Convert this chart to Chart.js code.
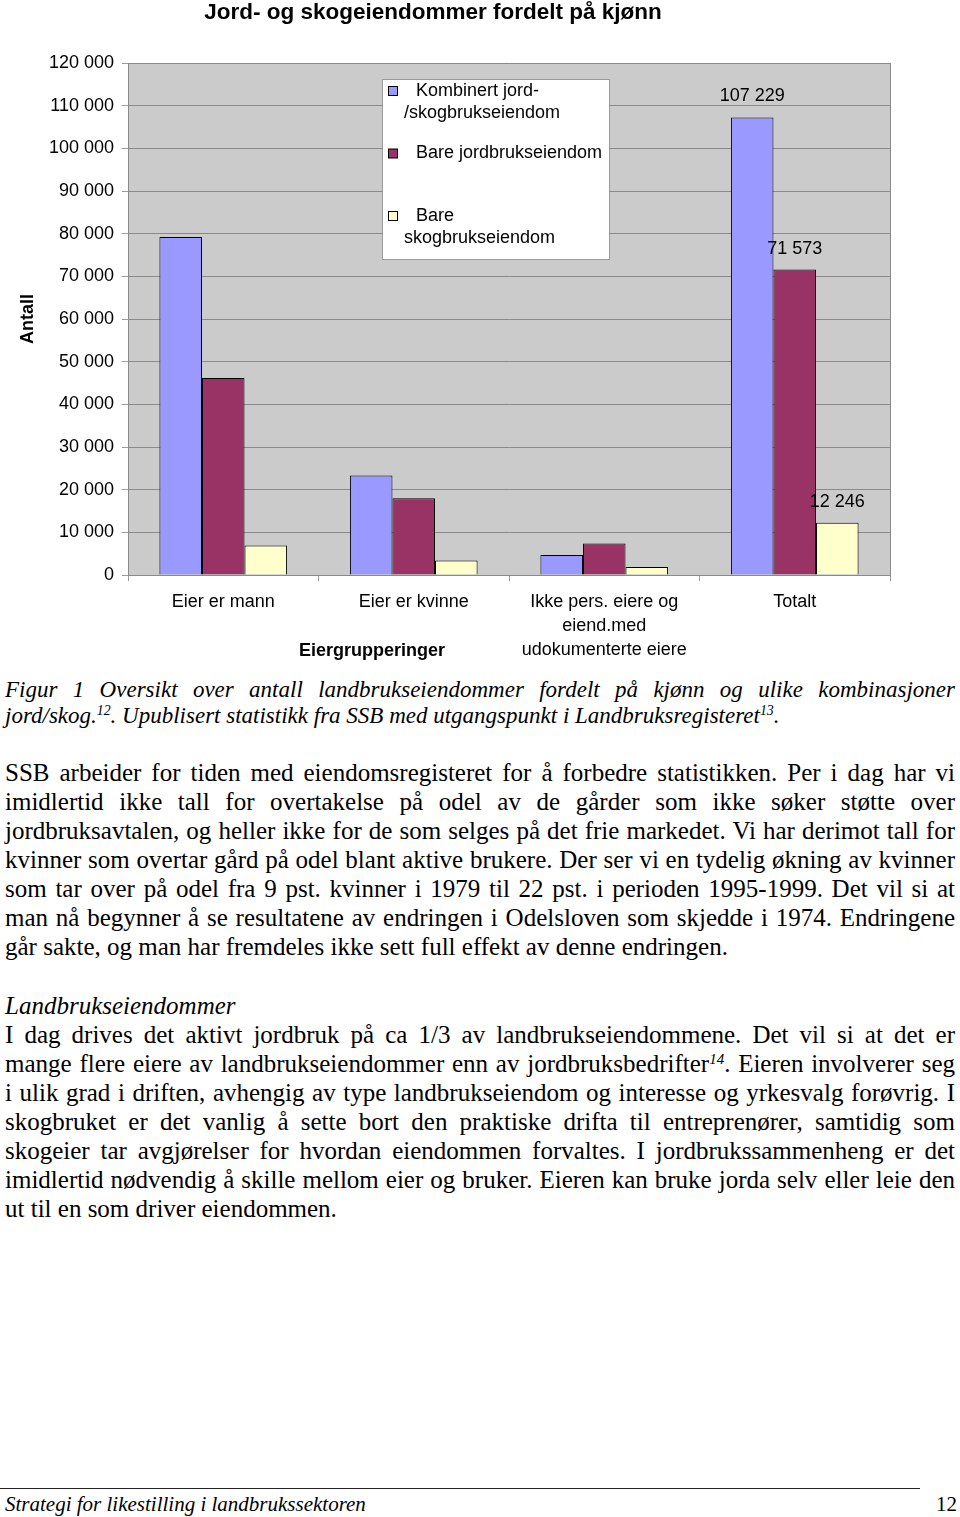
<!DOCTYPE html>
<html>
<head>
<meta charset="utf-8">
<script src="https://cdn.jsdelivr.net/npm/chart.js@4.4.1/dist/chart.umd.min.js"></script>
<style>
    body { margin: 0; background: #fff; width: 960px; height: 1517px; position: relative; overflow: hidden; }
    #chart { position: absolute; left: 0; top: 0; }
    .txt { position: absolute; left: 5px; width: 950px; font-family: 'Liberation Serif', 'Times New Roman', serif; color: #000; }
    .txt div { white-space: nowrap; }
    .j { text-align: justify; text-align-last: justify; white-space: normal !important; }
    .cap { font-style: italic; font-size: 23px; line-height: 26px; }
    .body { font-size: 25px; line-height: 29px; }
    sup { font-size: 0.6em; line-height: 0; vertical-align: 0.55em; }
    .rule { position: absolute; left: 0; top: 1488px; width: 920px; border-top: 1px solid #222; }
    .foot { position: absolute; top: 1492px; font-family: 'Liberation Serif', 'Times New Roman', serif; font-size: 21px; line-height: 24px; }
</style>
</head>
<body>
<canvas id="chart" width="960" height="665"></canvas>

<div class="txt cap" style="top:677px">
    <div class="j">Figur 1 Oversikt over antall landbrukseiendommer fordelt på kjønn og ulike kombinasjoner</div>
    <div>jord/skog.<sup>12</sup>. Upublisert statistikk fra SSB med utgangspunkt i Landbruksregisteret<sup>13</sup>.</div>
</div>

<div class="txt body" style="top:758px">
    <div class="j">SSB arbeider for tiden med eiendomsregisteret for å forbedre statistikken. Per i dag har vi</div>
    <div class="j">imidlertid ikke tall for overtakelse på odel av de gårder som ikke søker støtte over</div>
    <div class="j">jordbruksavtalen, og heller ikke for de som selges på det frie markedet. Vi har derimot tall for</div>
    <div class="j">kvinner som overtar gård på odel blant aktive brukere. Der ser vi en tydelig økning av kvinner</div>
    <div class="j">som tar over på odel fra 9 pst. kvinner i 1979 til 22 pst. i perioden 1995-1999. Det vil si at</div>
    <div class="j">man nå begynner å se resultatene av endringen i Odelsloven som skjedde i 1974. Endringene</div>
    <div>går sakte, og man har fremdeles ikke sett full effekt av denne endringen.</div>
</div>

<div class="txt body" style="top:991px">
    <div><i>Landbrukseiendommer</i></div>
    <div class="j">I dag drives det aktivt jordbruk på ca 1/3 av landbrukseiendommene. Det vil si at det er</div>
    <div class="j">mange flere eiere av landbrukseiendommer enn av jordbruksbedrifter<sup><i>14</i></sup>. Eieren involverer seg</div>
    <div class="j">i ulik grad i driften, avhengig av type landbrukseiendom og interesse og yrkesvalg forøvrig. I</div>
    <div class="j">skogbruket er det vanlig å sette bort den praktiske drifta til entreprenører, samtidig som</div>
    <div class="j">skogeier tar avgjørelser for hvordan eiendommen forvaltes. I jordbrukssammenheng er det</div>
    <div class="j">imidlertid nødvendig å skille mellom eier og bruker. Eieren kan bruke jorda selv eller leie den</div>
    <div>ut til en som driver eiendommen.</div>
</div>

<div class="rule"></div>
<div class="foot" style="left:5px;font-style:italic">Strategi for likestilling i landbrukssektoren</div>
<div class="foot" style="left:936px">12</div>

<script>
const chartTitle = 'Jord- og skogeiendommer fordelt på kjønn';
const yAxisTitle = 'Antall';
const xAxisTitle = 'Eiergrupperinger';

const categories = [
    'Eier er mann',
    'Eier er kvinne',
    ['Ikke pers. eiere og', 'eiend.med', 'udokumenterte eiere'],
    'Totalt'
];

const seriesNames = [
    'Kombinert jord-/skogbrukseiendom',
    'Bare jordbrukseiendom',
    'Bare skogbrukseiendom'
];
// how the legend box wraps each name
const legendLines = [
    ['Kombinert jord-', '/skogbrukseiendom'],
    ['Bare jordbrukseiendom'],
    ['Bare', 'skogbrukseiendom']
];

const kombinert = [79200, 23300, 4700, 107229];
const bareJord = [46200, 18000, 7400, 71573];
const bareSkog = [6900, 3400, 1900, 12246];

const seriesColors = ['#9999ff', '#993366', '#ffffcc'];

const yTicksMin = 0;
const yTicksMax = 120000;
const yTicksStep = 10000;

// only the total group has value labels
const labelledCategory = 3;

const FONT = "Arial, 'Liberation Sans', sans-serif";

function fmt(v) {
    return String(v).replace(/\B(?=(\d{3})+(?!\d))/g, ' ');
}

const pageDecor = {
    id: 'pageDecor',
    beforeDraw(chart) {
        const {ctx, chartArea} = chart;
        ctx.save();
        ctx.fillStyle = '#cbcbcb';
        ctx.fillRect(chartArea.left, chartArea.top, chartArea.right - chartArea.left, chartArea.bottom - chartArea.top);
        ctx.strokeStyle = '#8a8a8a';
        ctx.lineWidth = 1;
        ctx.beginPath();
        ctx.moveTo(chartArea.right + 0.5, chartArea.top);
        ctx.lineTo(chartArea.right + 0.5, chartArea.bottom);
        ctx.stroke();
        ctx.restore();
    },
    afterDatasetsDraw(chart) {
        const ctx = chart.ctx;
        ctx.save();
        ctx.fillStyle = '#000';
        ctx.font = '18px ' + FONT;
        ctx.textAlign = 'center';
        ctx.textBaseline = 'middle';
        chart.data.datasets.forEach(function (ds, i) {
            let bar = chart.getDatasetMeta(i).data[labelledCategory];
            ctx.fillText(fmt(ds.data[labelledCategory]), bar.x, bar.y - 21);
        });
        ctx.restore();
    },
    afterDraw(chart) {
        const ctx = chart.ctx;
        ctx.save();

        // title
        ctx.fillStyle = '#000';
        ctx.font = 'bold 22.5px ' + FONT;
        ctx.textAlign = 'center';
        ctx.textBaseline = 'middle';
        ctx.fillText(chartTitle, 433, 13);

        // x axis title
        ctx.font = 'bold 18px ' + FONT;
        ctx.fillText(xAxisTitle, 372, 651);

        // legend box
        let lx = 382, ly = 79, lw = 227, lh = 180;
        ctx.fillStyle = '#fff';
        ctx.fillRect(lx, ly, lw, lh);
        ctx.strokeStyle = '#9a9a9a';
        ctx.strokeRect(lx + 0.5, ly + 0.5, lw, lh);

        ctx.font = '18px ' + FONT;
        ctx.textAlign = 'left';
        chart.data.datasets.forEach(function (ds, i) {
            let y = ly + 12 + i * 62.5;
            ctx.fillStyle = ds.backgroundColor;
            ctx.fillRect(lx + 6.5, y - 4.5, 9, 9);
            ctx.strokeStyle = '#000';
            ctx.strokeRect(lx + 6.5, y - 4.5, 9, 9);
            ctx.fillStyle = '#000';
            legendLines[i].forEach(function (line, k) {
                ctx.fillText(line, lx + (k === 0 ? 34 : 22), y + k * 22);
            });
        });
        ctx.restore();
    }
};

let ctxChart = document.getElementById('chart').getContext('2d');
let barChart = new Chart(ctxChart, {
    type: 'bar',
    data: {
        labels: categories,
        datasets: [
            {label: seriesNames[0], data: kombinert, backgroundColor: seriesColors[0]},
            {label: seriesNames[1], data: bareJord, backgroundColor: seriesColors[1]},
            {label: seriesNames[2], data: bareSkog, backgroundColor: seriesColors[2]}
        ].map(function (ds) {
            ds.borderColor = '#000';
            ds.borderWidth = 1;
            ds.categoryPercentage = 0.67;
            ds.barPercentage = 1.0;
            return ds;
        })
    },
    plugins: [pageDecor],
    options: {
        responsive: false,
        animation: false,
        layout: {padding: {top: 63, right: 70, left: 0, bottom: 0}},
        plugins: {
            legend: {display: false},
            title: {display: false},
            tooltip: {enabled: false}
        },
        scales: {
            x: {
                afterFit: function (scale) { scale.height = 90; },
                grid: {offset: true, drawOnChartArea: false, drawTicks: true, tickLength: 6, color: '#9a9a9a'},
                border: {color: '#8a8a8a'},
                ticks: {
                    color: '#000',
                    padding: 9,
                    maxRotation: 0,
                    autoSkip: false,
                    font: {family: FONT, size: 18, lineHeight: 1.333}
                }
            },
            y: {
                min: yTicksMin,
                max: yTicksMax,
                afterFit: function (scale) { scale.width = 128; },
                grid: {color: '#8a8a8a', tickLength: 6, tickColor: '#9a9a9a'},
                border: {color: '#8a8a8a'},
                ticks: {
                    stepSize: yTicksStep,
                    color: '#000',
                    padding: 8,
                    font: {family: FONT, size: 18},
                    callback: function (v) { return fmt(v); }
                },
                title: {
                    display: true,
                    text: yAxisTitle,
                    color: '#000',
                    font: {family: FONT, size: 18, weight: 'bold'},
                    padding: {top: 17, bottom: 0}
                }
            }
        }
    }
});
</script>
</body>
</html>
